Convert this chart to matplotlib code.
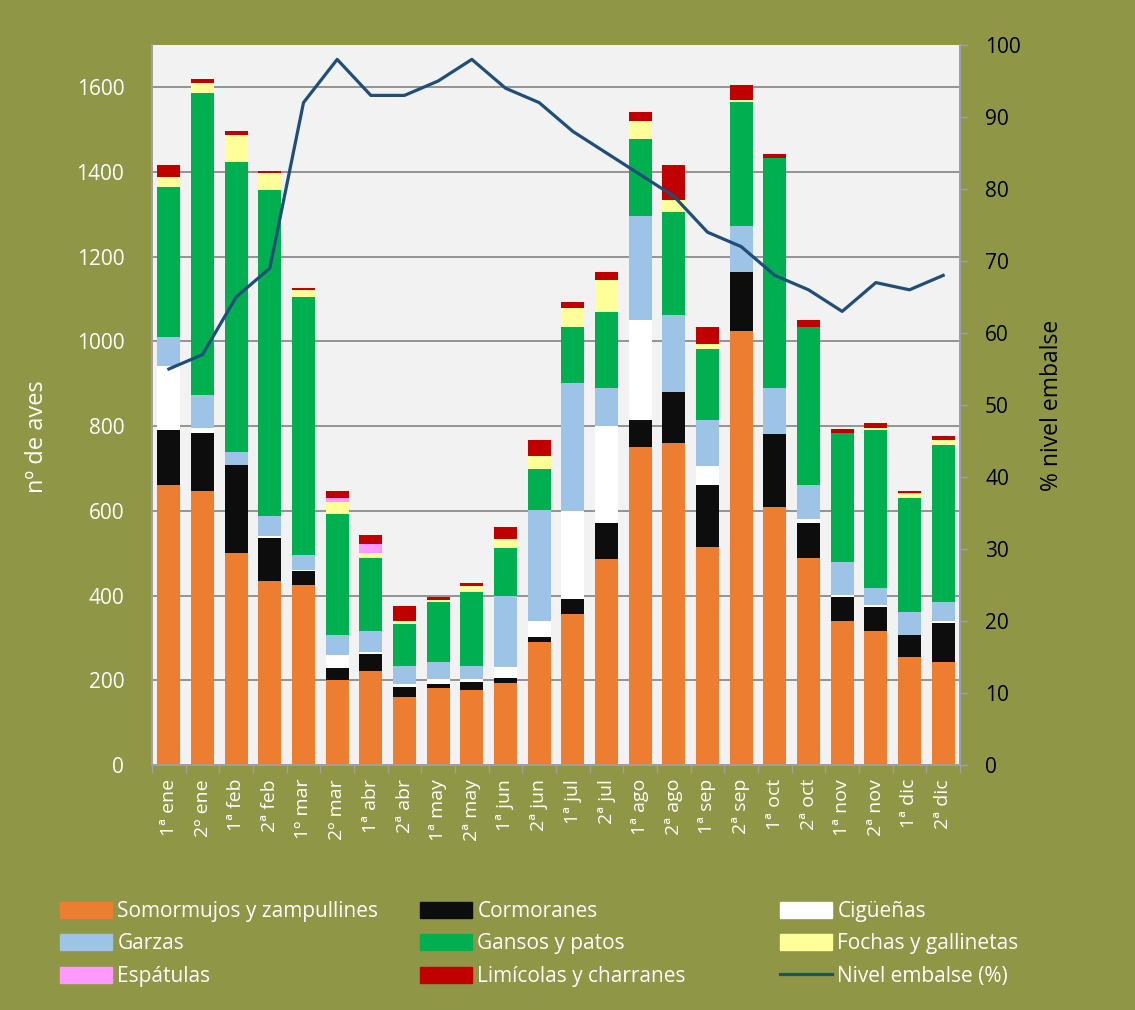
import matplotlib
matplotlib.use("Agg")
import matplotlib.pyplot as plt
import numpy as np
from matplotlib.patches import Patch
from matplotlib.lines import Line2D

categories = ["1ª ene", "2º ene", "1ª feb", "2ª feb", "1º mar", "2º mar", "1ª abr", "2ª abr",
              "1ª may", "2ª may", "1ª jun", "2ª jun", "1ª jul", "2ª jul", "1ª ago", "2ª ago",
              "1ª sep", "2ª sep", "1ª oct", "2ª oct", "1ª nov", "2ª nov", "1ª dic", "2ª dic"]

somormujos = [660, 647, 500, 435, 425, 200, 223, 161, 182, 177, 194, 291, 357, 486, 750, 760, 514, 1025, 609, 489, 340, 316, 254, 244]
cormoranes = [132, 137, 208, 102, 32, 29, 40, 23, 10, 19, 11, 11, 34, 85, 64, 120, 146, 140, 172, 83, 57, 58, 52, 92]
ciguenas = [150, 12, 0, 3, 4, 31, 3, 8, 10, 7, 27, 38, 208, 229, 237, 0, 45, 0, 0, 9, 4, 3, 0, 3]
garzas = [69, 78, 30, 49, 36, 48, 51, 41, 41, 31, 167, 262, 302, 91, 246, 182, 110, 108, 110, 81, 78, 41, 56, 45]
gansos = [353, 713, 686, 769, 608, 285, 171, 100, 142, 174, 113, 96, 133, 179, 181, 244, 168, 292, 542, 373, 306, 374, 268, 372]
fochas = [25, 24, 64, 39, 17, 27, 13, 6, 5, 14, 21, 31, 44, 76, 42, 28, 10, 4, 0, 0, 0, 3, 9, 12]
espatulas = [0, 0, 0, 0, 0, 11, 20, 0, 0, 0, 0, 0, 0, 0, 0, 0, 0, 0, 0, 0, 0, 0, 3, 0]
limicolas = [27, 9, 9, 5, 4, 16, 23, 36, 6, 7, 29, 39, 15, 18, 22, 82, 41, 36, 10, 15, 8, 12, 6, 9]
nivel = [55, 57, 65, 69, 92, 98, 93, 93, 95, 98, 94, 92, 88, 85, 82, 79, 74, 72, 68, 66, 63, 67, 66, 68]

series = [
    ("Somormujos y zampullines", somormujos, "#ED7D31"),
    ("Cormoranes", cormoranes, "#0D0D0D"),
    ("Cigüeñas", ciguenas, "#FFFFFF"),
    ("Garzas", garzas, "#9DC3E6"),
    ("Gansos y patos", gansos, "#00B050"),
    ("Fochas y gallinetas", fochas, "#FFFF99"),
    ("Espátulas", espatulas, "#FF99FF"),
    ("Limícolas y charranes", limicolas, "#C00000"),
]
line_label = "Nivel embalse (%)"
line_color = "#1F4E79"

BG = "#8F9747"
plt.rcParams['font.family'] = ['Open Sans', 'DejaVu Sans']

fig = plt.figure(figsize=(11.35, 10.10), dpi=100, facecolor=BG)
ax = fig.add_axes([152/1135, 1-765/1010, (960-152)/1135, (765-45)/1010])
ax.set_facecolor("#F2F2F2")

x = np.arange(len(categories))
bottom = np.zeros(len(categories))
handles = {}
for name, vals, col in series:
    v = np.array(vals, dtype=float)
    ax.bar(x, v, 0.68, bottom=bottom, color=col, edgecolor=col, linewidth=0, zorder=3)
    bottom += v
    handles[name] = Patch(facecolor=col, edgecolor=col)

ax.set_xlim(-0.5, len(categories) - 0.5)
ax.set_ylim(0, 1700)
ax.set_yticks(np.arange(0, 1601, 200))
ax.grid(axis='y', color="#8C8C8C", linewidth=1.3, zorder=0)
ax.set_axisbelow(True)
ax.set_xticks(x)
ax.set_xticklabels(categories, rotation=90, color="white", fontsize=14)
ax.tick_params(axis='x', length=0, pad=10)
ax.set_xticks(np.arange(-0.5, len(categories), 1), minor=True)
ax.tick_params(axis='x', which='minor', length=6, color="#A0A0A0", width=1)
ax.tick_params(axis='y', colors="white", labelsize=15, length=0, pad=20)
for s in ["top"]:
    ax.spines[s].set_visible(False)
for s in ["left", "right", "bottom"]:
    ax.spines[s].set_color("#A0A0A0")
    ax.spines[s].set_linewidth(1.3)
ax.set_ylabel("nº de aves", color="white", fontsize=17)
ax.yaxis.set_label_coords(-0.128, 0.456)

ax2 = ax.twinx()
ax2.plot(x, nivel, color=line_color, linewidth=2.3, zorder=5)
ax2.set_ylim(0, 100)
ax2.set_yticks(np.arange(0, 101, 10))
ax2.tick_params(axis='y', colors="#A0A0A0", labelcolor="black", labelsize=15, length=6, width=1, pad=12)
for s in ["top"]:
    ax2.spines[s].set_visible(False)
for s in ["left", "right", "bottom"]:
    ax2.spines[s].set_color("#A0A0A0")
    ax2.spines[s].set_linewidth(1.3)
ax2.set_ylabel("% nivel embalse", color="black", fontsize=16.5, labelpad=14)
handles[line_label] = Line2D([0], [0], color=line_color, linewidth=2.3)

cols = [["Somormujos y zampullines", "Garzas", "Espátulas"],
        ["Cormoranes", "Gansos y patos", "Limícolas y charranes"],
        ["Cigüeñas", "Fochas y gallinetas", line_label]]
xs = [60/1135, 420/1135, 780/1135]
for cx, names in zip(xs, cols):
    leg = fig.legend([handles[n] for n in names], names, loc="upper left",
                     bbox_to_anchor=(cx, 1-901/1010), frameon=False, fontsize=15,
                     handlelength=2.5, handleheight=0.8, handletextpad=0.25,
                     labelspacing=0.55, borderaxespad=0, borderpad=0)
    for t in leg.get_texts():
        t.set_color("white")

fig.savefig("out.png", dpi=100, facecolor=BG)
